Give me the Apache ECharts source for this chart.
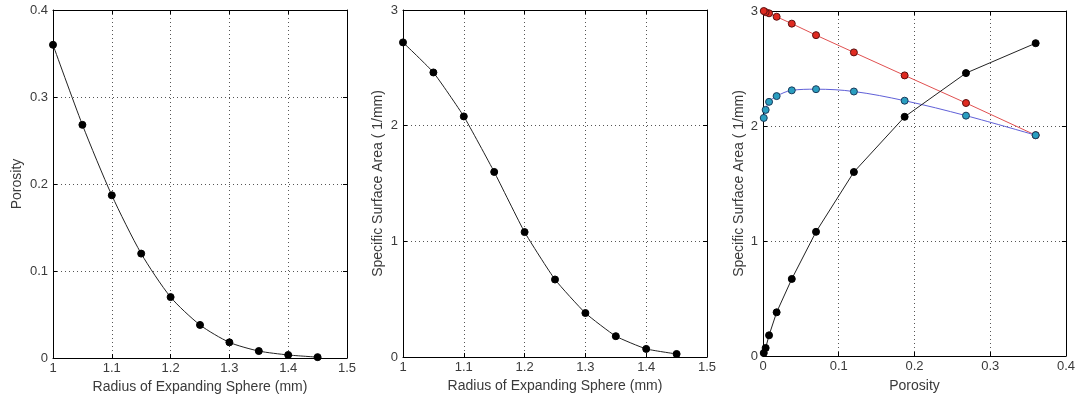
<!DOCTYPE html>
<html>
<head>
<meta charset="utf-8">
<script src="https://cdn.jsdelivr.net/npm/echarts@6/dist/echarts.min.js"></script>
<style>
html,body{margin:0;padding:0;background:#fff;}
#c{width:1078px;height:401px;}
</style>
</head>
<body>
<div id="c"></div>
<script>
// ---- data ----
const radius   = [1.0, 1.05, 1.1, 1.15, 1.2, 1.25, 1.3, 1.35, 1.4, 1.45];
const porosity = [0.36, 0.268, 0.187, 0.12, 0.07, 0.038, 0.018, 0.008, 0.0035, 0.001];
const ssa      = [2.72, 2.46, 2.08, 1.6, 1.08, 0.67, 0.38, 0.18, 0.07, 0.026];
const ssaRed   = [1.92, 2.2, 2.44, 2.64, 2.79, 2.89, 2.95, 2.98, 2.99, 3.0];
const ssaBlue  = [1.92, 2.09, 2.22, 2.30, 2.32, 2.31, 2.26, 2.21, 2.14, 2.07];
const radiusTicks = {min: 1, max: 1.5, interval: 0.1};
const porosityTicks = {min: 0, max: 0.4, interval: 0.1};
const ssaTicks = {min: 0, max: 3, interval: 1};
const xTitle1 = 'Radius of Expanding Sphere (mm)';
const yTitle1 = 'Porosity';
const yTitleSSA = 'Specific Surface Area ( 1/mm)';
const xTitle3 = 'Porosity';

const pairs = (xs, ys) => xs.map((x, i) => [x, ys[i]]);
const FONT = 'Liberation Sans, Arial, sans-serif';
const TXT = '#3a3a3a';

function mainX(grid, t, name, gap) {
  return {
    type: 'value', gridIndex: grid, position: 'bottom',
    min: t.min, max: t.max, interval: t.interval,
    name: name, nameLocation: 'middle', nameGap: gap,
    nameTextStyle: {color: TXT, fontSize: 14, fontFamily: FONT},
    axisLine: {show: true, onZero: false, lineStyle: {color: '#000', width: 1}},
    axisTick: {show: true, inside: true, length: 4, lineStyle: {color: '#000'}},
    axisLabel: {color: TXT, fontSize: 13, fontFamily: FONT, margin: 4,
      formatter: v => String(+v.toFixed(2))},
    splitLine: {show: true, lineStyle: {color: '#555', type: [1, 3], width: 1}}
  };
}
function mainY(grid, t, name, gap) {
  return {
    type: 'value', gridIndex: grid, position: 'left',
    min: t.min, max: t.max, interval: t.interval,
    name: name, nameLocation: 'middle', nameGap: gap, nameRotate: 90,
    nameTextStyle: {color: TXT, fontSize: 14, fontFamily: FONT},
    axisLine: {show: true, onZero: false, lineStyle: {color: '#000', width: 1}},
    axisTick: {show: true, inside: true, length: 4, lineStyle: {color: '#000'}},
    axisLabel: {color: TXT, fontSize: 13, fontFamily: FONT, margin: 5,
      formatter: v => String(+v.toFixed(2))},
    splitLine: {show: true, lineStyle: {color: '#555', type: [1, 3], width: 1}}
  };
}
function boxX(grid, t) {
  return {
    type: 'value', gridIndex: grid, position: 'top',
    min: t.min, max: t.max, interval: t.interval,
    axisLine: {show: true, onZero: false, lineStyle: {color: '#000', width: 1}},
    axisTick: {show: true, inside: true, length: 4, lineStyle: {color: '#000'}},
    axisLabel: {show: false}, splitLine: {show: false}
  };
}
function boxY(grid, t) {
  return {
    type: 'value', gridIndex: grid, position: 'right',
    min: t.min, max: t.max, interval: t.interval,
    axisLine: {show: true, onZero: false, lineStyle: {color: '#000', width: 1}},
    axisTick: {show: true, inside: true, length: 4, lineStyle: {color: '#000'}},
    axisLabel: {show: false}, splitLine: {show: false}
  };
}

function lineSeries(xi, yi, data, lineColor, fill, border, smooth, z) {
  return {
    type: 'line', xAxisIndex: xi, yAxisIndex: yi, data: data,
    smooth: smooth, symbol: 'circle', symbolSize: 7, z: z || 2,
    lineStyle: {color: lineColor, width: 1},
    itemStyle: {color: fill, borderColor: border, borderWidth: 1},
    animation: false, silent: true
  };
}

const chart = echarts.init(document.getElementById('c'), null, {renderer: 'canvas'});
chart.setOption({
  backgroundColor: '#fff',
  animation: false,
  grid: [
    {left: 53, top: 10, width: 294, height: 348},
    {left: 403, top: 10, width: 304, height: 347},
    {left: 763, top: 11, width: 304, height: 345}
  ],
  xAxis: [
    mainX(0, radiusTicks, xTitle1, 22),
    mainX(1, radiusTicks, xTitle1, 22),
    mainX(2, porosityTicks, xTitle3, 23),
    boxX(0, radiusTicks), boxX(1, radiusTicks), boxX(2, porosityTicks)
  ],
  yAxis: [
    mainY(0, porosityTicks, yTitle1, 29),
    mainY(1, ssaTicks, yTitleSSA, 18),
    mainY(2, ssaTicks, yTitleSSA, 17),
    boxY(0, porosityTicks), boxY(1, ssaTicks), boxY(2, ssaTicks)
  ],
  series: [
    lineSeries(0, 0, pairs(radius, porosity), '#222', '#000', '#000', 0.25),
    lineSeries(1, 1, pairs(radius, ssa), '#222', '#000', '#000', 0.15),
    lineSeries(2, 2, pairs(porosity, ssaRed), '#e05050', '#e02a20', '#5a1010', false, 3),
    lineSeries(2, 2, pairs(porosity, ssaBlue), '#6060d8', '#2a9ec0', '#1a3a5a', 0.35, 3),
    lineSeries(2, 2, pairs(porosity, ssa), '#222', '#000', '#000', false, 4)
  ]
});
</script>
</body>
</html>
